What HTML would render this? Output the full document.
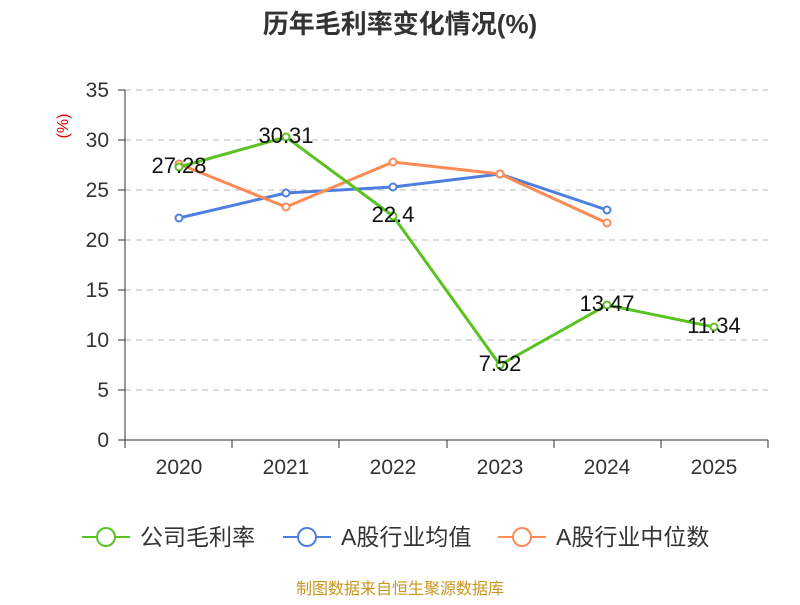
<!DOCTYPE html>
<html><head><meta charset="utf-8"><style>
body{margin:0;background:#fff;}
svg text{font-family:"Liberation Sans","Noto Sans CJK SC",sans-serif;}
</style></head><body>
<svg width="800" height="600" xmlns="http://www.w3.org/2000/svg">
<text x="400" y="33" text-anchor="middle" font-size="26" font-weight="bold" fill="#333">历年毛利率变化情况(%)</text>
<text x="68" y="126" font-size="16" fill="#e00" transform="rotate(-90 68 126)" text-anchor="middle">(%)</text>
<g stroke="#bbb" stroke-dasharray="6,5" stroke-width="1">
<line x1="125" y1="90" x2="768" y2="90"/><line x1="125" y1="140" x2="768" y2="140"/>
<line x1="125" y1="190" x2="768" y2="190"/><line x1="125" y1="240" x2="768" y2="240"/>
<line x1="125" y1="290" x2="768" y2="290"/><line x1="125" y1="340" x2="768" y2="340"/>
<line x1="125" y1="390" x2="768" y2="390"/></g>
<g stroke="#333" stroke-width="1">
<line x1="125" y1="90" x2="125" y2="440"/><line x1="125" y1="440" x2="768" y2="440"/>
<line x1="118" y1="90" x2="125" y2="90"/><line x1="118" y1="140" x2="125" y2="140"/><line x1="118" y1="190" x2="125" y2="190"/><line x1="118" y1="240" x2="125" y2="240"/><line x1="118" y1="290" x2="125" y2="290"/><line x1="118" y1="340" x2="125" y2="340"/><line x1="118" y1="390" x2="125" y2="390"/><line x1="118" y1="440" x2="125" y2="440"/>
<line x1="125" y1="440" x2="125" y2="448"/><line x1="232" y1="440" x2="232" y2="448"/><line x1="339" y1="440" x2="339" y2="448"/><line x1="447" y1="440" x2="447" y2="448"/><line x1="554" y1="440" x2="554" y2="448"/><line x1="661" y1="440" x2="661" y2="448"/><line x1="768" y1="440" x2="768" y2="448"/>
</g>
<g font-size="21" fill="#333" text-anchor="end">
<text x="109" y="97">35</text><text x="109" y="147">30</text><text x="109" y="197">25</text><text x="109" y="247">20</text><text x="109" y="297">15</text><text x="109" y="347">10</text><text x="109" y="397">5</text><text x="109" y="447">0</text></g>
<g font-size="21" fill="#333" text-anchor="middle">
<text x="179" y="474">2020</text><text x="286" y="474">2021</text><text x="393" y="474">2022</text><text x="500" y="474">2023</text><text x="607" y="474">2024</text><text x="714" y="474">2025</text></g>
<g fill="none" stroke-width="3">
<polyline stroke="#4e7fe0" points="179,218 286,193 393,187 500,174 607,210"/>
<polyline stroke="#fc8b55" points="179,164 286,207 393,162 500,174 607,223"/>
<polyline stroke="#5ac322" points="179,167 286,137 393,216 500,365 607,305 714,327"/>
</g>
<g fill="#fff" stroke-width="2">
<g stroke="#4e7fe0"><circle cx="179" cy="218" r="3.5"/><circle cx="286" cy="193" r="3.5"/><circle cx="393" cy="187" r="3.5"/><circle cx="500" cy="174" r="3.5"/><circle cx="607" cy="210" r="3.5"/></g>
<g stroke="#fc8b55"><circle cx="179" cy="164" r="3.5"/><circle cx="286" cy="207" r="3.5"/><circle cx="393" cy="162" r="3.5"/><circle cx="500" cy="174" r="3.5"/><circle cx="607" cy="223" r="3.5"/></g>
<g stroke="#5ac322"><circle cx="179" cy="167" r="3.5"/><circle cx="286" cy="137" r="3.5"/><circle cx="393" cy="216" r="3.5"/><circle cx="500" cy="365" r="3.5"/><circle cx="607" cy="305" r="3.5"/><circle cx="714" cy="327" r="3.5"/></g>
</g>
<g font-size="22" fill="#111" text-anchor="middle">
<text x="179" y="173">27.28</text><text x="286" y="143">30.31</text><text x="393" y="222">22.4</text><text x="500" y="371">7.52</text><text x="607" y="311">13.47</text><text x="714" y="333">11.34</text></g>
<g stroke-width="2" fill="#fff">
<line x1="82" y1="537" x2="130" y2="537" stroke="#5ac322"/><circle cx="106" cy="537" r="9" stroke="#5ac322"/>
<line x1="283" y1="537" x2="331" y2="537" stroke="#4e7fe0"/><circle cx="307" cy="537" r="9" stroke="#4e7fe0"/>
<line x1="498" y1="537" x2="546" y2="537" stroke="#fc8b55"/><circle cx="522" cy="537" r="9" stroke="#fc8b55"/>
</g>
<g font-size="23" fill="#333">
<text x="140" y="545">公司毛利率</text><text x="341" y="545">A股行业均值</text><text x="556" y="545">A股行业中位数</text></g>
<text x="400" y="594" text-anchor="middle" font-size="16" fill="#c8961e">制图数据来自恒生聚源数据库</text>
</svg>
</body></html>
